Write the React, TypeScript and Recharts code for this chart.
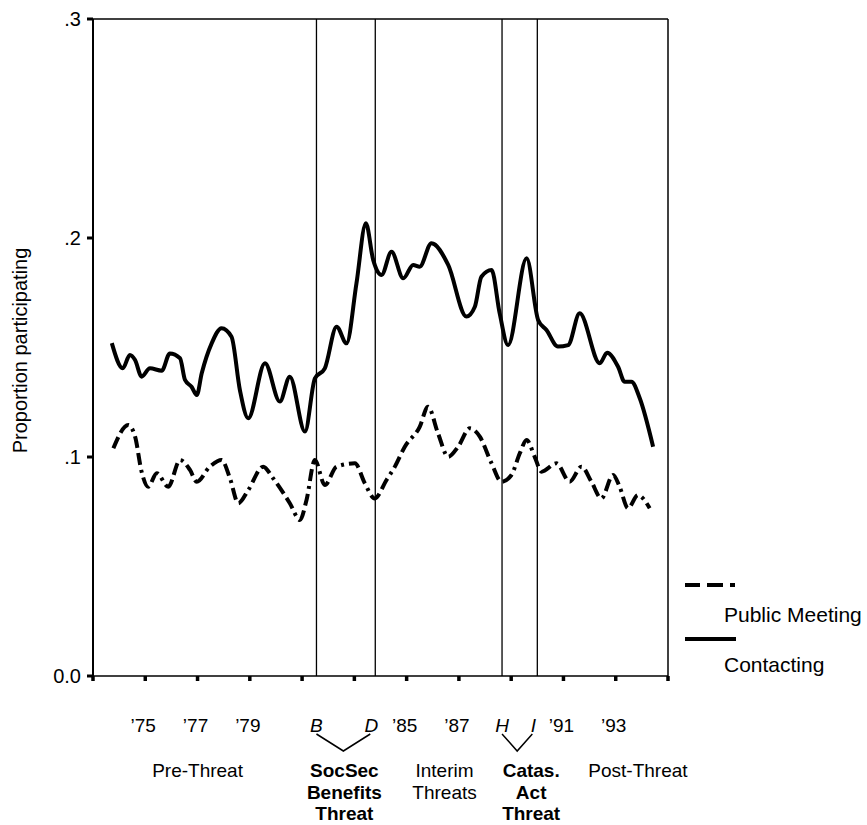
import React from "react";
import {
  Legend,
  Line,
  LineChart,
  ReferenceArea,
  ReferenceLine,
  XAxis,
  YAxis,
} from "recharts";

// Contacting (solid), fractional years
const contactYears = [
  1973.72, 1974.14, 1974.41, 1974.61, 1974.86, 1975.18, 1975.63, 1975.94, 1976.33, 1976.52,
  1976.77, 1976.97, 1977.16, 1977.54, 1977.92, 1978.3, 1978.62, 1978.94, 1979.58, 1980.15,
  1980.53, 1981.11, 1981.49, 1981.87, 1982.32, 1982.7, 1983.08, 1983.44, 1983.72, 1984.04,
  1984.42, 1984.87, 1985.25, 1985.5, 1985.95, 1986.59, 1987.29, 1987.61, 1987.86, 1988.25,
  1988.56, 1988.88, 1989.59, 1990.03, 1990.35, 1990.79, 1991.18, 1991.62, 1992.39, 1992.67,
  1993.09, 1993.34, 1993.6, 1993.92, 1994.43,
];
const contactValues = [
  0.152, 0.1405, 0.1466, 0.1443, 0.1367, 0.1405, 0.1394, 0.1473, 0.1451, 0.1352,
  0.1321, 0.1283, 0.1382, 0.1519, 0.1588, 0.1549, 0.1306, 0.1177, 0.1428, 0.1253,
  0.1367, 0.1116, 0.1359, 0.1405, 0.1595, 0.1519, 0.1793, 0.2067, 0.19, 0.1831,
  0.1937, 0.1816, 0.1877, 0.1869, 0.1976, 0.1877, 0.1641, 0.1686, 0.1823, 0.1854,
  0.1656, 0.1511, 0.1907, 0.1626, 0.158, 0.1504, 0.1511, 0.1656, 0.1428, 0.1476,
  0.1412, 0.1344, 0.1344, 0.1268, 0.1047,
];

// Public Meeting (dashed)
const meetingYears = [
  1973.78, 1974.35, 1974.61, 1974.86, 1975.11, 1975.44, 1975.88, 1976.33, 1976.71, 1976.97,
  1977.47, 1977.92, 1978.24, 1978.56, 1978.94, 1979.51, 1979.89, 1980.53, 1980.92, 1981.17,
  1981.49, 1981.87, 1982.32, 1983.02, 1983.4, 1983.78, 1984.23, 1984.55, 1984.93, 1985.5,
  1985.82, 1986.2, 1986.59, 1986.97, 1987.42, 1987.8, 1988.25, 1988.63, 1989.01, 1989.33,
  1989.59, 1989.9, 1990.16, 1990.73, 1991.24, 1991.69, 1992.07, 1992.45, 1992.9, 1993.15,
  1993.47, 1993.85, 1994.3,
];
const meetingValues = [
  0.104, 0.1146, 0.1093, 0.0933, 0.0864, 0.0926, 0.0864, 0.0986, 0.0941, 0.0887,
  0.0956, 0.0986, 0.0903, 0.0789, 0.0849, 0.0956, 0.0903, 0.0789, 0.0712, 0.0804,
  0.0986, 0.0872, 0.0956, 0.0971, 0.088, 0.0811, 0.0895, 0.0956, 0.1047, 0.1138,
  0.123, 0.1108, 0.1001, 0.1047, 0.1131, 0.1093, 0.0971, 0.0887, 0.0918, 0.1017,
  0.1078, 0.1001, 0.0933, 0.0971, 0.0887, 0.0956, 0.0887, 0.0811, 0.0918, 0.0864,
  0.0766, 0.0826, 0.0766,
];

const xTicks = [1973, 1975, 1977, 1979, 1981, 1983, 1985, 1987, 1989, 1991, 1993, 1995];
const xTickLabels = ["", "\u201975", "\u201977", "\u201979", "", "", "\u201985", "\u201987", "", "\u201991", "\u201993", ""];
const yTicks = [0, 0.1, 0.2, 0.3];
const yTickLabels = ["0.0", ".1", ".2", ".3"];

// threat windows: B–D and H–I
const windowStarts = [1981.55, 1988.65];
const windowEnds = [1983.8, 1990.0];
const windowStartLetters = ["B", "H"];
const windowEndLetters = ["D", "I"];
const windowNames = [["SocSec", "Benefits", "Threat"], ["Catas.", "Act", "Threat"]];

// plain period captions, anchored on a year
const periodYears = [1977.0, 1986.45, 1993.85];
const periodNames = [["Pre-Threat"], ["Interim", "Threats"], ["Post-Threat"]];

const seriesOrder = ["meeting", "contacting"];

const FONT = '"Liberation Sans", Arial, Helvetica, sans-serif';
const windowTextShift = [1, 14];

const rows = new Map<number, any>();
contactYears.forEach((yr, i) => {
  rows.set(yr, { ...(rows.get(yr) ?? { year: yr }), contacting: contactValues[i] });
});
meetingYears.forEach((yr, i) => {
  rows.set(yr, { ...(rows.get(yr) ?? { year: yr }), meeting: meetingValues[i] });
});
const data = [...rows.values()].sort((a, b) => a.year - b.year);

const XTick = ({ x, y, payload }: any) => {
  const i = xTicks.indexOf(payload.value);
  return (
    <text x={x - 2} y={y + 49} textAnchor="middle" fontSize={19} fontFamily={FONT} fill="#000">
      {xTickLabels[i] ?? ""}
    </text>
  );
};

const YTitle = ({ viewBox }: any) => {
  const cx = viewBox.x + 27;
  const cy = viewBox.y + viewBox.height / 2 + 3;
  return (
    <text
      x={cx}
      y={cy}
      transform={`rotate(-90, ${cx}, ${cy})`}
      textAnchor="middle"
      fontSize={20}
      fontFamily={FONT}
      fill="#000"
    >
      Proportion participating
    </text>
  );
};

const WindowLabel = ({ viewBox, idx }: any) => {
  const { x, y, width, height } = viewBox;
  const bottom = y + height;
  const left = x;
  const right = x + width - 5;
  const mid = (left + right) / 2;
  return (
    <g fontFamily={FONT} fill="#000">
      <text x={left} y={bottom + 56} textAnchor="middle" fontStyle="italic" fontSize={19}>
        {windowStartLetters[idx]}
      </text>
      <text x={x + width - 4} y={bottom + 56} textAnchor="middle" fontStyle="italic" fontSize={19}>
        {windowEndLetters[idx]}
      </text>
      <polyline
        points={`${left},${bottom + 58} ${mid},${bottom + 75} ${right},${bottom + 58}`}
        fill="none"
        stroke="#000"
        strokeWidth={1.5}
      />
      <text textAnchor="middle" fontWeight="bold" fontSize={19}>
        {windowNames[idx].map((t, k) => (
          <tspan key={k} x={mid + windowTextShift[idx]} y={bottom + 101 + k * 21.5}>
            {t}
          </tspan>
        ))}
      </text>
    </g>
  );
};

const PeriodLabel = ({ viewBox, idx }: any) => {
  const bottom = viewBox.y + viewBox.height;
  return (
    <text textAnchor="middle" fontSize={19} fontFamily={FONT} fill="#000">
      {periodNames[idx].map((t, k) => (
        <tspan key={k} x={viewBox.x} y={bottom + 101 + k * 21.5}>
          {t}
        </tspan>
      ))}
    </text>
  );
};

const legendDash: Record<string, string | undefined> = {
  meeting: "15 7 16 7 5",
  contacting: undefined,
};

const LegendBox = ({ payload }: any) => {
  const items = [...(payload ?? [])].sort(
    (a: any, b: any) => seriesOrder.indexOf(a.dataKey) - seriesOrder.indexOf(b.dataKey)
  );
  return (
    <div style={{ fontFamily: FONT, fontSize: 21, lineHeight: "24px", color: "#000" }}>
      {items.map((it: any, i: number) => (
        <div key={it.dataKey} style={{ marginTop: i === 0 ? 0 : 7 }}>
          <svg width={52} height={10} style={{ display: "block" }}>
            <line
              x1={0}
              x2={51}
              y1={5}
              y2={5}
              stroke="#000"
              strokeWidth={4}
              strokeDasharray={legendDash[it.dataKey]}
            />
          </svg>
          <div style={{ marginLeft: 39, marginTop: i === 0 ? 13 : 9 }}>{it.value}</div>
        </div>
      ))}
    </div>
  );
};

export default function App() {
  return (
    <div style={{ position: "fixed", left: 0, top: 0, background: "#fff" }}>
      <LineChart
        width={867}
        height={825}
        data={data}
        margin={{ top: 19, right: 199, bottom: 119, left: 0 }}
      >
        <XAxis
          dataKey="year"
          type="number"
          domain={[1973, 1995]}
          ticks={xTicks}
          interval={0}
          allowDataOverflow
          height={30}
          tickSize={5}
          tickMargin={2}
          axisLine={{ stroke: "#000", strokeWidth: 1.5 }}
          tickLine={{ stroke: "#000", strokeWidth: 3.5 }}
          tick={<XTick />}
        />
        <YAxis
          type="number"
          domain={[0, 0.3]}
          ticks={yTicks}
          interval={0}
          width={93}
          tickSize={6}
          tickMargin={6}
          tickFormatter={(v: number) => yTickLabels[yTicks.indexOf(v)] ?? ""}
          axisLine={{ stroke: "#000", strokeWidth: 2 }}
          tickLine={{ stroke: "#000", strokeWidth: 3 }}
          tick={{ fill: "#000", fontSize: 20, fontFamily: FONT }}
          label={(p: any) => <YTitle {...p} />}
        />
        <ReferenceLine y={0.3} stroke="#000" strokeWidth={1.5} />
        <ReferenceLine x={1995} stroke="#000" strokeWidth={1.5} />
        {windowStarts.map((from, i) => (
          <ReferenceLine key={`s${i}`} x={from} stroke="#000" strokeWidth={1.3} />
        ))}
        {windowEnds.map((to, i) => (
          <ReferenceLine key={`e${i}`} x={to} stroke="#000" strokeWidth={1.3} />
        ))}
        {windowStarts.map((from, i) => (
          <ReferenceArea
            key={`a${i}`}
            x1={from}
            x2={windowEnds[i]}
            fill="none"
            stroke="none"
            label={(p: any) => <WindowLabel {...p} idx={i} />}
          />
        ))}
        {periodYears.map((yr, i) => (
          <ReferenceLine
            key={`p${i}`}
            x={yr}
            stroke="none"
            label={(p: any) => <PeriodLabel {...p} idx={i} />}
          />
        ))}
        <Line
          dataKey="meeting"
          name="Public Meeting"
          type="monotone"
          stroke="#000"
          strokeWidth={4}
          strokeDasharray="12 5 12 5 3 5"
          dot={false}
          activeDot={false}
          connectNulls
          isAnimationActive={false}
        />
        <Line
          dataKey="contacting"
          name="Contacting"
          type="monotone"
          stroke="#000"
          strokeWidth={4}
          dot={false}
          activeDot={false}
          connectNulls
          isAnimationActive={false}
        />
        <Legend
          layout="horizontal"
          verticalAlign="middle"
          align="center"
          content={<LegendBox />}
          wrapperStyle={{ left: 685, top: 580, width: 180 }}
        />
      </LineChart>
    </div>
  );
}
